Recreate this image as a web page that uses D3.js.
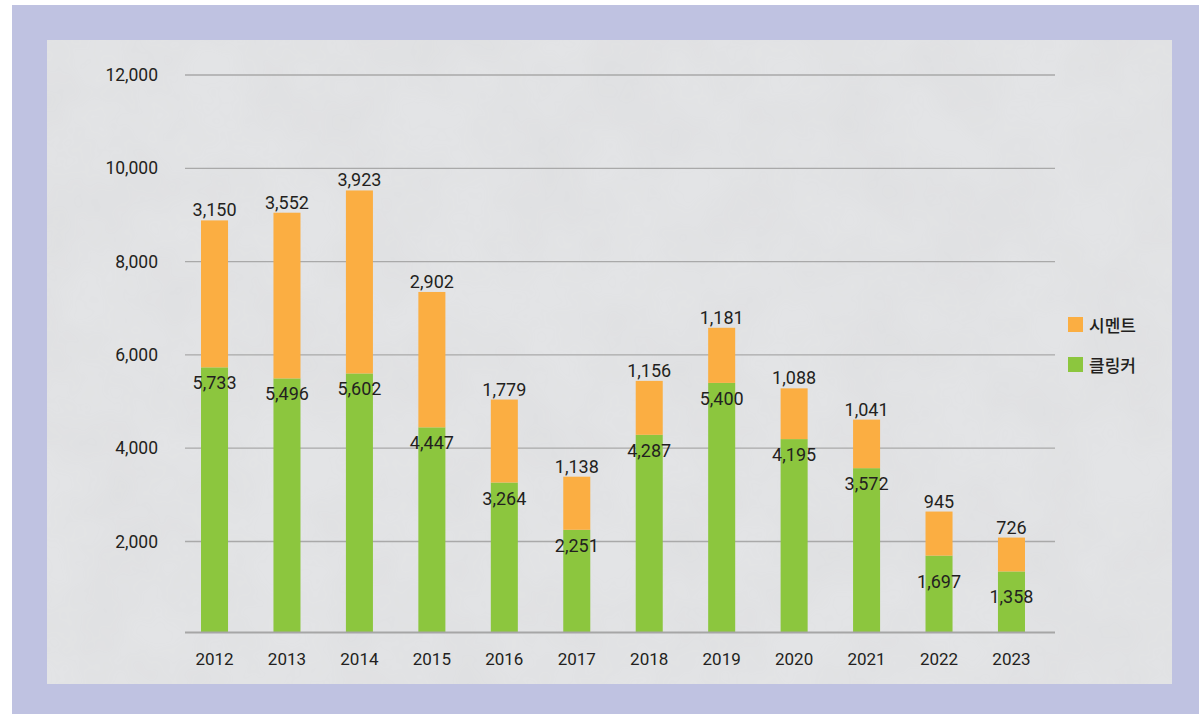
<!DOCTYPE html>
<meta charset="utf-8">
<style>
body { margin: 0; background: #fff; }
text { font-family: Roboto, "Noto Sans CJK KR", sans-serif; fill: #231f20; }
.grid line { stroke: #a9a9a9; stroke-width: 1.3px; }
</style>
<svg width="1199" height="714"></svg>
<script src="https://cdnjs.cloudflare.com/ajax/libs/d3/7.8.5/d3.min.js"></script>
<script>
// data
var years = ["2012","2013","2014","2015","2016","2017","2018","2019","2020","2021","2022","2023"];
var clinker = [5733,5496,5602,4447,3264,2251,4287,5400,4195,3572,1697,1358];
var cement = [3150,3552,3923,2902,1779,1138,1156,1181,1088,1041,945,726];
var seriesNames = ["시멘트","클링커"];
var yTicks = [2000,4000,6000,8000,10000,12000];

var svg = d3.select("svg");
var fmt = d3.format(",");

// frame + panel
svg.append("rect").attr("x",12).attr("y",5).attr("width",1187).attr("height",709).attr("fill","#bfc2e1");
var defs = svg.append("defs");
var f = defs.append("filter").attr("id","tex").attr("x",0).attr("y",0).attr("width","100%").attr("height","100%");
f.append("feTurbulence").attr("type","fractalNoise").attr("baseFrequency","0.012").attr("numOctaves",4).attr("seed",3);
f.append("feColorMatrix").attr("type","matrix")
  .attr("values","0 0 0 0 0.5  0 0 0 0 0.5  0 0 0 0 0.5  0 0 0 0.18 -0.05");
f.append("feComposite").attr("in2","SourceGraphic").attr("operator","in");
svg.append("rect").attr("x",47).attr("y",40).attr("width",1125).attr("height",644).attr("fill","#e3e4e6");
svg.append("rect").attr("x",47).attr("y",40).attr("width",1125).attr("height",644).attr("fill","#e3e4e6").attr("filter","url(#tex)");

var x = d3.scaleBand().domain(years).range([178.3, 1047.7]).paddingInner(0.627).paddingOuter(0.3135);
var y = d3.scaleLinear().domain([0,12000]).range([634.8, 75]);
var base = 632;

// gridlines
svg.append("g").attr("class","grid").selectAll("line").data(yTicks).enter().append("line")
  .attr("x1",185).attr("x2",1055)
  .attr("y1",function(d){return y(d);}).attr("y2",function(d){return y(d);});

// y labels
svg.append("g").selectAll("text").data(yTicks).enter().append("text")
  .attr("x",158).attr("y",function(d){return y(d)+6;})
  .attr("text-anchor","end").style("font-size","17.5px")
  .text(function(d){return fmt(d);});

var rows = years.map(function(yr,i){ return {year:yr, clinker:clinker[i], cement:cement[i]}; });

// bars
var g = svg.append("g");
g.selectAll(".cl").data(rows).enter().append("rect")
  .attr("x",function(d){return x(d.year);}).attr("width",x.bandwidth())
  .attr("y",function(d){return y(d.clinker);})
  .attr("height",function(d){return base - y(d.clinker);})
  .attr("fill","#8cc63e");
g.selectAll(".ce").data(rows).enter().append("rect")
  .attr("x",function(d){return x(d.year);}).attr("width",x.bandwidth())
  .attr("y",function(d){return y(d.clinker+d.cement);})
  .attr("height",function(d){return y(d.clinker) - y(d.clinker+d.cement);})
  .attr("fill","#fbae42");

// baseline
svg.append("line").attr("x1",185).attr("x2",1055).attr("y1",base+0.5).attr("y2",base+0.5)
  .attr("stroke","#a6a6a6").attr("stroke-width",2.2);

// value labels
g.selectAll(".lt").data(rows).enter().append("text")
  .attr("x",function(d){return x(d.year)+x.bandwidth()/2;})
  .attr("y",function(d){return y(d.clinker+d.cement)-4;})
  .attr("text-anchor","middle").style("font-size","18px")
  .text(function(d){return fmt(d.cement);});
g.selectAll(".lb").data(rows).enter().append("text")
  .attr("x",function(d){return x(d.year)+x.bandwidth()/2;})
  .attr("y",function(d){return y(d.clinker)+22+(d.clinker<2000?10:0);})
  .attr("text-anchor","middle").style("font-size","18px")
  .text(function(d){return fmt(d.clinker);});

// x labels
svg.append("g").selectAll("text").data(years).enter().append("text")
  .attr("x",function(d){return x(d)+x.bandwidth()/2;}).attr("y",665)
  .attr("text-anchor","middle").style("font-size","17px")
  .text(function(d){return d;});

// legend
var colors = ["#fbae42","#8cc63e"];
var lg = svg.append("g").selectAll("g").data(seriesNames).enter().append("g")
  .attr("transform",function(d,i){return "translate(1068,"+(317+i*40)+")";});
lg.append("rect").attr("width",15).attr("height",15).attr("fill",function(d,i){return colors[i];});
lg.append("text").attr("x",21).attr("y",14.5).style("font-size","17px").style("font-weight","500")
  .style("font-family","'Noto Sans CJK KR', sans-serif").text(function(d){return d;});
</script>
